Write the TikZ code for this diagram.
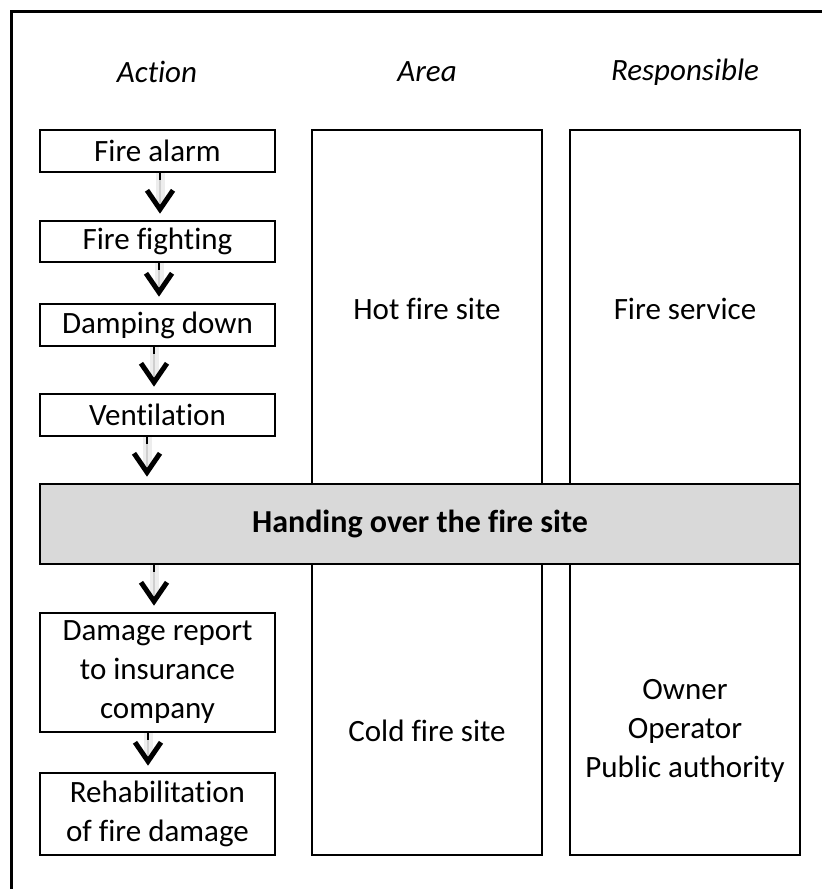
\documentclass[tikz,border=0pt]{standalone}
\usepackage{fontspec}
\setmainfont{Carlito}[Ligatures=NoCommon]
\usetikzlibrary{arrows.meta}
\definecolor{barfill}{HTML}{D9D9D9}
\begin{document}
\begin{tikzpicture}[x=1pt,y=-1pt,
  box/.style={draw=black, line width=2.6pt, rectangle, inner sep=0pt, align=center,
    font=\fontsize{31}{39}\selectfont},
  actbox/.style={box, minimum width=235pt},
  colbox/.style={box, minimum width=230pt},
  txt/.style={align=center, inner sep=0pt, font=\fontsize{31}{39}\selectfont},
  head/.style={inner sep=0pt, font=\fontsize{31}{39}\selectfont\itshape},
  flowglow/.style={draw=gray!14, line width=9pt, shorten >=14pt},
  flowline/.style={draw=gray!38, line width=2.5pt, shorten >=6pt,
    -{Straight Barb[length=19pt,width=26pt,line width=5pt,color=black,sharp]}},
  flowtick/.style={draw=black, line width=2pt}
]
\useasboundingbox (0,0) rectangle (822,889);
% outer frame (only top and left visible)
\draw[line width=3pt, line join=miter] (11,889) -- (11,11) -- (822,11);

% headers
\node[head] (hAction) at (157,72) {Action};
\node[head] (hArea) at (427,72) {Area};
\node[head] (hResp) at (685,72) {Responsible};

% area / responsible columns
\node[colbox, minimum height=354pt] (areaup) at (427,307) {};
\node[colbox, minimum height=291pt] (arealow) at (427,709.5) {};
\node[colbox, minimum height=354pt] (respup) at (685,307) {};
\node[colbox, minimum height=291pt] (resplow) at (685,709.5) {};
\node[txt] (hot) at (427,309) {Hot fire site};
\node[txt] (fsvc) at (685,309) {Fire service};
\node[txt] (cold) at (427,731) {Cold fire site};
\node[txt] (owner) at (685,731) {Owner\\Operator\\Public authority};

% action boxes
\node[actbox, minimum height=42pt] (alarm) at (157.5,151) {Fire alarm};
\node[actbox, minimum height=41pt] (fight) at (157.5,241.5) {Fire fighting};
\node[actbox, minimum height=42pt] (damp) at (157.5,325) {Damping down};
\node[actbox, minimum height=42pt] (vent) at (157.5,415) {Ventilation};
\node[box, fill=barfill, minimum width=760pt, minimum height=80pt, font=\fontsize{32}{39}\selectfont\bfseries] (hand) at (420,524) {Handing over the fire site};
\node[actbox, minimum height=119pt] (damage) at (157.5,672.5) {Damage report\\to insurance\\company};
\node[actbox, minimum height=82pt] (rehab) at (157.5,814) {Rehabilitation\\of fire damage};

% connectors (all in the action column, x taken from the action boxes)
\foreach \a/\b/\dx in {alarm/fight/2.5, fight/damp/1.5, damp/vent/-3.5, vent/hand/-10.5, hand/damage/-3.5, damage/rehab/-9.5}{
  \draw[flowglow] ([xshift=\dx pt]alarm.south |- \a.south) -- ([xshift=\dx pt]alarm.south |- \b.north);
  \draw[flowline] ([xshift=\dx pt]alarm.south |- \a.south) -- ([xshift=\dx pt]alarm.south |- \b.north);
  \draw[flowtick] ([xshift=\dx pt]alarm.south |- \a.south) -- ++(0,7);
}
\end{tikzpicture}
\end{document}
